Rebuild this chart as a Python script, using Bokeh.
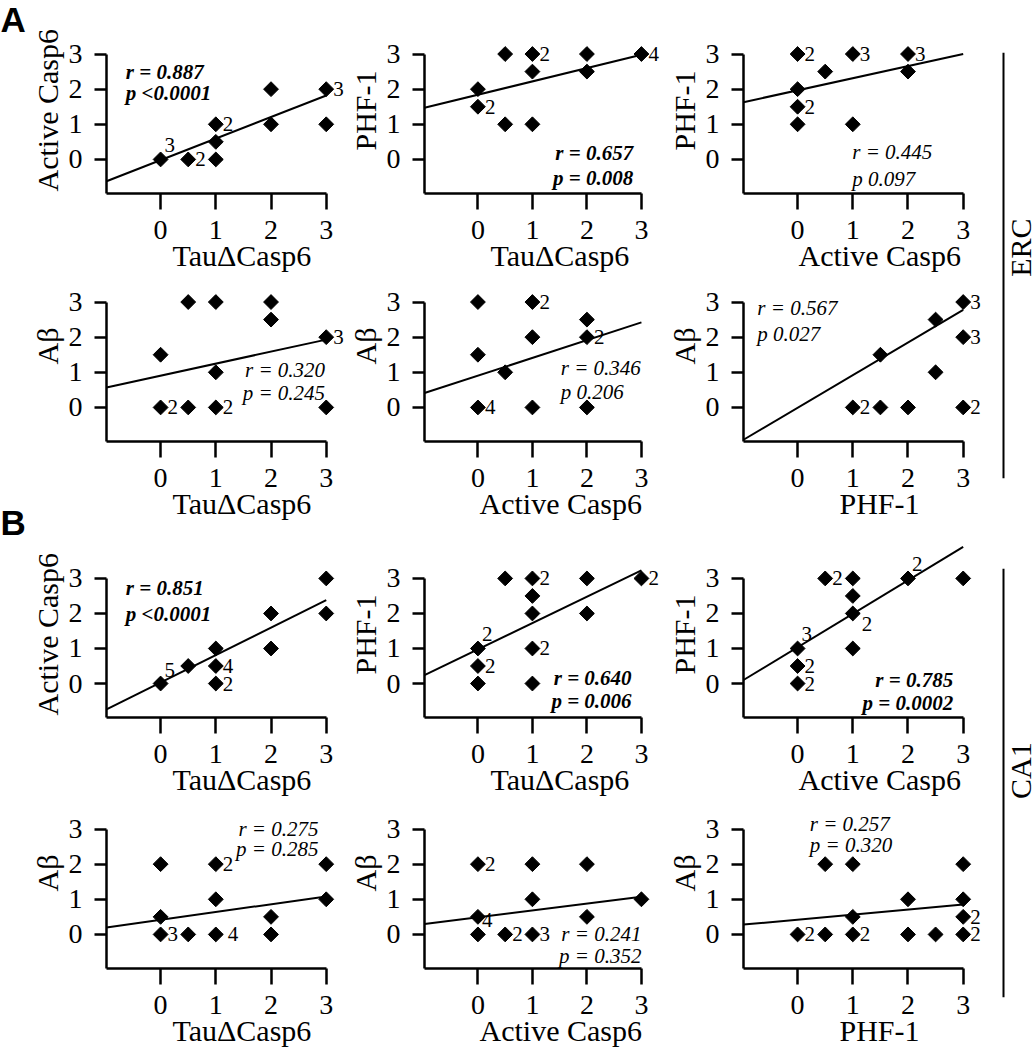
import numpy as np
from bokeh.plotting import figure
from bokeh.models import Range1d, FixedTicker, Label, Span, Title, ColumnDataSource
from bokeh.layouts import row, column
from bokeh.embed import file_html
from bokeh.resources import INLINE
from bokeh.core.properties import value

SERIF = "Liberation Serif"

# ------------------------------------------------------------------ data
# ERC (panel group A)
A1_x = [0, 0.5, 1, 1, 1, 2, 2, 3, 3]
A1_y = [0, 0, 0, 0.5, 1, 1, 2, 1, 2]
A1_n_x = [0, 0.5, 1, 3]
A1_n_y = [0, 0, 1, 2]
A1_n = ["3", "2", "2", "3"]
A1_fit_x = [-0.98, 3]
A1_fit_y = [-0.62, 1.82]
A1_stats = ["r = 0.887", "p <0.0001"]

A2_x = [0.5, 1, 2, 3, 1, 2, 0, 0, 0.5, 1]
A2_y = [3, 3, 3, 3, 2.5, 2.5, 2, 1.5, 1, 1]
A2_n_x = [1, 3, 0]
A2_n_y = [3, 3, 1.5]
A2_n = ["2", "4", "2"]
A2_fit_x = [-0.98, 3]
A2_fit_y = [1.47, 2.98]
A2_stats = ["r = 0.657", "p = 0.008"]

A3_x = [0, 1, 2, 0.5, 2, 0, 0, 0, 1]
A3_y = [3, 3, 3, 2.5, 2.5, 2, 1.5, 1, 1]
A3_n_x = [0, 1, 2, 0]
A3_n_y = [3, 3, 3, 1.5]
A3_n = ["2", "3", "3", "2"]
A3_fit_x = [-0.98, 3]
A3_fit_y = [1.63, 3.0]
A3_stats = ["r = 0.445", "p 0.097"]

A4_x = [0.5, 1, 2, 2, 3, 0, 1, 0, 0.5, 1, 3]
A4_y = [3, 3, 3, 2.5, 2, 1.5, 1, 0, 0, 0, 0]
A4_n_x = [3, 0, 1]
A4_n_y = [2, 0, 0]
A4_n = ["3", "2", "2"]
A4_fit_x = [-0.98, 3]
A4_fit_y = [0.57, 1.93]
A4_stats = ["r = 0.320", "p = 0.245"]

A5_x = [0, 1, 2, 1, 2, 0, 0.5, 0, 1, 2]
A5_y = [3, 3, 2.5, 2, 2, 1.5, 1, 0, 0, 0]
A5_n_x = [1, 2, 0]
A5_n_y = [3, 2, 0]
A5_n = ["2", "2", "4"]
A5_fit_x = [-0.98, 3]
A5_fit_y = [0.41, 2.42]
A5_stats = ["r = 0.346", "p 0.206"]

A6_x = [3, 2.5, 1.5, 3, 2.5, 1, 1.5, 2, 3]
A6_y = [3, 2.5, 1.5, 2, 1, 0, 0, 0, 0]
A6_n_x = [3, 3, 1, 3]
A6_n_y = [3, 2, 0, 0]
A6_n = ["3", "3", "2", "2"]
A6_fit_x = [-0.98, 3]
A6_fit_y = [-0.92, 2.78]
A6_stats = ["r = 0.567", "p 0.027"]

# CA1 (panel group B)
B1_x = [3, 2, 3, 1, 2, 0.5, 1, 0, 1]
B1_y = [3, 2, 2, 1, 1, 0.5, 0.5, 0, 0]
B1_n_x = [1, 0, 1]
B1_n_y = [0.5, 0, 0]
B1_n = ["4", "5", "2"]
B1_fit_x = [-0.98, 3]
B1_fit_y = [-0.74, 2.38]
B1_stats = ["r = 0.851", "p <0.0001"]

B2_x = [0.5, 1, 2, 3, 1, 1, 2, 0, 1, 0, 0, 1]
B2_y = [3, 3, 3, 3, 2.5, 2, 2, 1, 1, 0.5, 0, 0]
B2_n_x = [1, 3, 0, 1, 0]
B2_n_y = [3, 3, 1, 1, 0.5]
B2_n = ["2", "2", "2", "2", "2"]
B2_fit_x = [-0.98, 3]
B2_fit_y = [0.24, 3.23]
B2_stats = ["r = 0.640", "p = 0.006"]

B3_x = [0.5, 1, 2, 3, 1, 1, 0, 1, 0, 0]
B3_y = [3, 3, 3, 3, 2.5, 2, 1, 1, 0.5, 0]
B3_n_x = [0.5, 2, 1, 0, 0, 0]
B3_n_y = [3, 3, 2, 1, 0.5, 0]
B3_n = ["2", "2", "2", "3", "2", "2"]
B3_fit_x = [-0.98, 3]
B3_fit_y = [0.10, 3.90]
B3_stats = ["r = 0.785", "p = 0.0002"]

B4_x = [0, 1, 3, 1, 3, 0, 2, 0, 0.5, 1, 2]
B4_y = [2, 2, 2, 1, 1, 0.5, 0.5, 0, 0, 0, 0]
B4_n_x = [1, 0, 1]
B4_n_y = [2, 0, 0]
B4_n = ["2", "3", "4"]
B4_fit_x = [-0.98, 3]
B4_fit_y = [0.20, 1.08]
B4_stats = ["r = 0.275", "p = 0.285"]

B5_x = [0, 1, 2, 1, 3, 0, 2, 0, 0.5, 1]
B5_y = [2, 2, 2, 1, 1, 0.5, 0.5, 0, 0, 0]
B5_n_x = [0, 0, 0.5, 1]
B5_n_y = [2, 0, 0, 0]
B5_n = ["2", "4", "2", "3"]
B5_fit_x = [-0.98, 3]
B5_fit_y = [0.30, 1.07]
B5_stats = ["r = 0.241", "p = 0.352"]

B6_x = [0.5, 1, 3, 2, 3, 1, 3, 0, 0.5, 1, 2, 2.5, 3]
B6_y = [2, 2, 2, 1, 1, 0.5, 0.5, 0, 0, 0, 0, 0, 0]
B6_n_x = [3, 0, 1, 3]
B6_n_y = [0.5, 0, 0, 0]
B6_n = ["2", "2", "2", "2"]
B6_fit_x = [-0.98, 3]
B6_fit_y = [0.28, 0.85]
B6_stats = ["r = 0.257", "p = 0.320"]

TICKS = [0, 1, 2, 3]
X_LABELS_TOP = ["TauΔCasp6", "TauΔCasp6", "Active Casp6"]
X_LABELS_BOT = ["TauΔCasp6", "Active Casp6", "PHF-1"]
Y_LABELS_TOP = ["Active Casp6", "PHF-1", "PHF-1"]
Y_LABELS_BOT = ["Aβ", "Aβ", "Aβ"]
GROUP_LABELS = ["ERC", "CA1"]
PANEL_LETTERS = ["A", "B"]

# ------------------------------------------------------------------ placement / style (not data)
N_POS = {
    "A1": ["ur", "r", "r", "r"], "A2": ["r", "r", "r"], "A3": ["r", "r", "r", "r"],
    "A4": ["r", "r", "r"], "A5": ["r", "r", "r"], "A6": ["r", "r", "r", "r"],
    "B1": ["r", "ur", "r"], "B2": ["r", "r", "ur", "r", "r"],
    "B3": ["r", "ur", "dr", "ur", "r", "r"], "B4": ["r", "r", "rr"],
    "B5": ["r", "ur", "r", "r"], "B6": ["r", "r", "r", "r"],
}
OFFSETS = {"r": (7, 0), "rr": (12, 0), "ur": (4, -14), "dr": (9, 11)}
# x, y(line 1), y(line 2), align, bold
STATS_POS = {
    "A1": (-0.63, 2.48, 1.88, "left", True), "A2": (2.85, 0.18, -0.53, "right", True),
    "A3": (0.99, 0.20, -0.55, "left", False), "A4": (2.98, 1.07, 0.42, "right", False),
    "A5": (1.52, 1.13, 0.45, "left", False), "A6": (-0.73, 2.83, 2.10, "left", False),
    "B1": (-0.63, 2.73, 1.99, "left", True), "B2": (2.82, 0.15, -0.50, "right", True),
    "B3": (2.82, 0.10, -0.57, "right", True), "B4": (2.86, 3.01, 2.43, "right", False),
    "B5": (3.00, 0.00, -0.60, "right", False), "B6": (0.22, 3.15, 2.55, "left", False),
}
# axis-title placement: pixel offset of the title start from the frame's left / bottom edge
XT_OFFSET = {"TauΔCasp6": 66, "Active Casp6": 55, "PHF-1": 96}
YT_OFFSET = {"Active Casp6": 2, "PHF-1": 43, "Aβ": 77}
LETTER_BASE = (19, 522)

X_START = -0.98
Y_START = -0.97
STRIP_W = 26
SIDE_W = 52
COL_W = [318, 316, 324]
COL_LEFT = [80, 77, 83]
COL_XEND = [3.331, 3.35, 3.386]
ROWS = [  # height, border top, border bottom, y_end
    (283, 43, 90, 3.30),
    (254, 8, 96, 3.30),
    (269, 8, 89, 3.94),
    (244, 1, 82, 3.613),
]
TOTAL_H = sum(r[0] for r in ROWS)


def style_axis(ax, tick_out, bounds, standoff):
    ax.bounds = bounds
    ax.ticker = FixedTicker(ticks=TICKS)
    ax.axis_line_width = 2.5
    ax.axis_line_color = "black"
    ax.major_tick_line_width = 2.5
    ax.major_tick_line_color = "black"
    ax.major_tick_in = 0
    ax.major_tick_out = tick_out
    ax.minor_tick_line_color = None
    ax.minor_tick_in = 0
    ax.minor_tick_out = 0
    ax.major_label_standoff = standoff
    ax.major_label_text_font = SERIF
    ax.major_label_text_font_size = "28px"
    ax.major_label_text_color = "black"


def axis_title(text, offset, standoff, valign):
    return Title(text=text, align="left", offset=offset, standoff=standoff,
                 vertical_align=valign, text_font=SERIF, text_font_size="30px",
                 text_font_style="normal", text_color="black")


def panel(key, xs, ys, nx, ny, nt, fx, fy, stats, xlabel, ylabel, col, rw):
    height, btop, bbot, y_end = ROWS[rw]
    p = figure(width=COL_W[col], height=height,
               x_range=Range1d(X_START, COL_XEND[col]), y_range=Range1d(Y_START, y_end),
               output_backend="svg", toolbar_location=None,
               min_border_left=COL_LEFT[col], min_border_right=0,
               min_border_top=btop, min_border_bottom=bbot)
    p.outline_line_color = None
    p.xgrid.visible = False
    p.ygrid.visible = False
    style_axis(p.below[0], 16, (X_START, 3), 11)
    style_axis(p.left[0], 12, (Y_START, 3), 12)
    p.add_layout(axis_title(xlabel, XT_OFFSET[xlabel], -5, "top"), "below")
    p.add_layout(axis_title(ylabel, YT_OFFSET[ylabel], 4, "bottom"), "left")

    p.line(fx, fy, line_width=2, line_color="black")
    p.scatter(xs, ys, marker="square", size=10.5, angle=np.pi / 4,
              fill_color="black", line_color="black")

    offs = [OFFSETS[c] for c in N_POS[key]]
    src = ColumnDataSource(dict(x=nx, y=ny, t=nt,
                                xo=[o[0] for o in offs], yo=[o[1] for o in offs]))
    p.text(x="x", y="y", text="t", x_offset="xo", y_offset="yo", source=src,
           text_font=value(SERIF), text_font_size="21px", text_color="black",
           text_align="left", text_baseline="middle")

    sx, y1, y2, align, bold = STATS_POS[key]
    for txt, yy in zip(stats, (y1, y2)):
        p.add_layout(Label(x=sx, y=yy, text=txt, text_align=align, text_baseline="middle",
                           text_font=SERIF, text_font_size="21px", text_color="black",
                           text_font_style="bold italic" if bold else "italic"))
    return p


def side(text, height, top, bottom, frac):
    s = figure(width=SIDE_W, height=height, x_range=Range1d(0, SIDE_W), y_range=Range1d(0, 1),
               output_backend="svg", toolbar_location=None,
               x_axis_location=None, y_axis_location=None,
               min_border_left=0, min_border_right=0,
               min_border_top=top, min_border_bottom=bottom)
    s.outline_line_color = None
    s.xgrid.visible = False
    s.ygrid.visible = False
    s.add_layout(Span(location=19, dimension="height", line_width=2, line_color="black"))
    s.add_layout(Label(x=36, y=frac, text=text, angle=np.pi / 2, text_align="center",
                       text_baseline="middle", text_font=SERIF, text_font_size="30px",
                       text_color="black"))
    return s


def strip():
    # narrow left strip holding the panel letters (page-pixel coordinates)
    s = figure(width=STRIP_W, height=TOTAL_H, x_range=Range1d(0, STRIP_W),
               y_range=Range1d(TOTAL_H, 0), output_backend="svg", toolbar_location=None,
               x_axis_location=None, y_axis_location=None,
               min_border_left=0, min_border_right=0, min_border_top=0, min_border_bottom=0)
    s.outline_line_color = None
    s.xgrid.visible = False
    s.ygrid.visible = False
    for letter, base in zip(PANEL_LETTERS, LETTER_BASE):
        s.add_layout(Label(x=0, y=base, text=letter, text_align="left",
                           text_baseline="alphabetic", text_font="Liberation Sans",
                           text_font_size="35px", text_font_style="bold", text_color="black"))
    return s


pA1 = panel("A1", A1_x, A1_y, A1_n_x, A1_n_y, A1_n, A1_fit_x, A1_fit_y, A1_stats, X_LABELS_TOP[0], Y_LABELS_TOP[0], 0, 0)
pA2 = panel("A2", A2_x, A2_y, A2_n_x, A2_n_y, A2_n, A2_fit_x, A2_fit_y, A2_stats, X_LABELS_TOP[1], Y_LABELS_TOP[1], 1, 0)
pA3 = panel("A3", A3_x, A3_y, A3_n_x, A3_n_y, A3_n, A3_fit_x, A3_fit_y, A3_stats, X_LABELS_TOP[2], Y_LABELS_TOP[2], 2, 0)
pA4 = panel("A4", A4_x, A4_y, A4_n_x, A4_n_y, A4_n, A4_fit_x, A4_fit_y, A4_stats, X_LABELS_BOT[0], Y_LABELS_BOT[0], 0, 1)
pA5 = panel("A5", A5_x, A5_y, A5_n_x, A5_n_y, A5_n, A5_fit_x, A5_fit_y, A5_stats, X_LABELS_BOT[1], Y_LABELS_BOT[1], 1, 1)
pA6 = panel("A6", A6_x, A6_y, A6_n_x, A6_n_y, A6_n, A6_fit_x, A6_fit_y, A6_stats, X_LABELS_BOT[2], Y_LABELS_BOT[2], 2, 1)
pB1 = panel("B1", B1_x, B1_y, B1_n_x, B1_n_y, B1_n, B1_fit_x, B1_fit_y, B1_stats, X_LABELS_TOP[0], Y_LABELS_TOP[0], 0, 2)
pB2 = panel("B2", B2_x, B2_y, B2_n_x, B2_n_y, B2_n, B2_fit_x, B2_fit_y, B2_stats, X_LABELS_TOP[1], Y_LABELS_TOP[1], 1, 2)
pB3 = panel("B3", B3_x, B3_y, B3_n_x, B3_n_y, B3_n, B3_fit_x, B3_fit_y, B3_stats, X_LABELS_TOP[2], Y_LABELS_TOP[2], 2, 2)
pB4 = panel("B4", B4_x, B4_y, B4_n_x, B4_n_y, B4_n, B4_fit_x, B4_fit_y, B4_stats, X_LABELS_BOT[0], Y_LABELS_BOT[0], 0, 3)
pB5 = panel("B5", B5_x, B5_y, B5_n_x, B5_n_y, B5_n, B5_fit_x, B5_fit_y, B5_stats, X_LABELS_BOT[1], Y_LABELS_BOT[1], 1, 3)
pB6 = panel("B6", B6_x, B6_y, B6_n_x, B6_n_y, B6_n, B6_fit_x, B6_fit_y, B6_stats, X_LABELS_BOT[2], Y_LABELS_BOT[2], 2, 3)

sideA = side(GROUP_LABELS[0], ROWS[0][0] + ROWS[1][0], 52, ROWS[0][0] + ROWS[1][0] - 478, 0.542)
sideB = side(GROUP_LABELS[1], ROWS[2][0] + ROWS[3][0], 568 - ROWS[0][0] - ROWS[1][0],
             TOTAL_H - 997, 0.529)

grpA = row(column(row(pA1, pA2, pA3), row(pA4, pA5, pA6)), sideA)
grpB = row(column(row(pB1, pB2, pB3), row(pB4, pB5, pB6)), sideB)
layout = row(strip(), column(grpA, grpB))

open("out.html", "w").write(file_html(layout, INLINE))
